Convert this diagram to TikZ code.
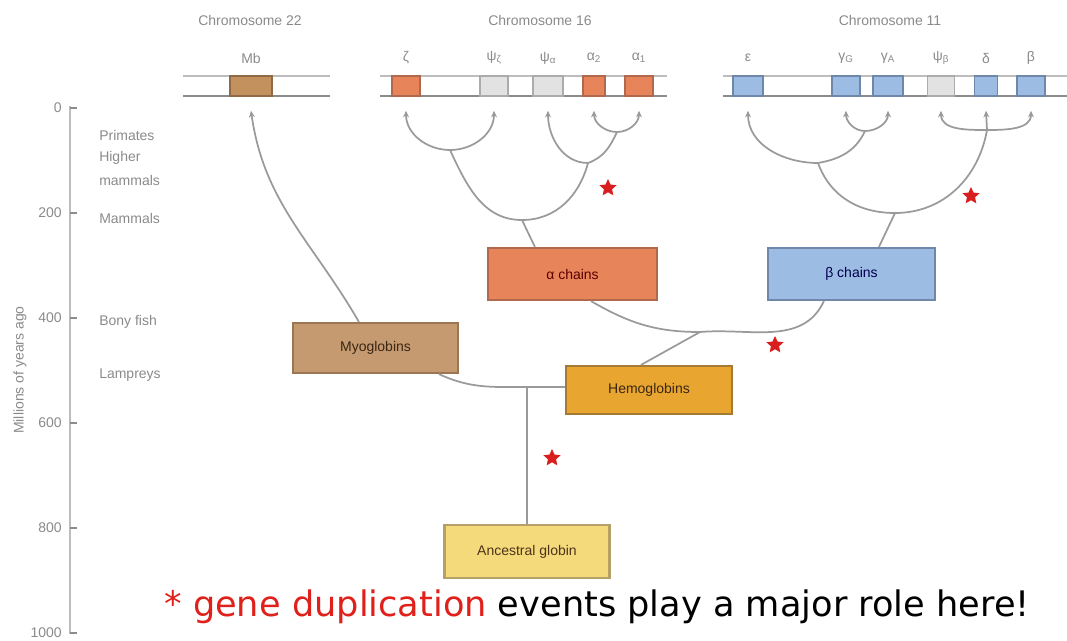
\documentclass[tikz,border=0pt]{standalone}
\usepackage{fontspec}
\setmainfont{Liberation Sans}
\newfontfamily\comicfont{DejaVu Sans}
\usetikzlibrary{shapes.geometric,arrows.meta,calc}
\definecolor{txtgray}{HTML}{8A8A8A}
\definecolor{linegray}{HTML}{9A9A9A}
\definecolor{chrtop}{HTML}{BDBDBD}
\definecolor{chrbot}{HTML}{8C8C8C}
\definecolor{mbfill}{HTML}{C3915E}
\definecolor{mbdraw}{HTML}{8F6A45}
\definecolor{afill}{HTML}{E8845A}
\definecolor{adraw}{HTML}{B0694C}
\definecolor{bfill}{HTML}{9DBCE4}
\definecolor{bdraw}{HTML}{6F87A8}
\definecolor{pfill}{HTML}{E2E2E2}
\definecolor{pdraw}{HTML}{ABABAB}
\definecolor{myofill}{HTML}{C69A70}
\definecolor{myodraw}{HTML}{9A7652}
\definecolor{hemofill}{HTML}{E8A631}
\definecolor{hemodraw}{HTML}{A57A34}
\definecolor{ancfill}{HTML}{F5DA7C}
\definecolor{ancdraw}{HTML}{B3A165}
\definecolor{starred}{HTML}{D81E1E}
\definecolor{dupred}{HTML}{E0201A}
\begin{document}
\begin{tikzpicture}[x=0.75pt,y=-0.75pt,
  lbl/.style={font=\fontsize{10.5}{12}\selectfont, text=txtgray, inner sep=0pt},
  gene/.style={draw=#1, line width=1.1pt, minimum height=15pt, inner sep=0pt},
  gw/.style={minimum width=#1*0.75pt},
  gbox/.style={draw=#1, line width=1.6pt, inner sep=0pt, font=\fontsize{10.5}{12}\selectfont},
  bw/.style 2 args={minimum width=#1*0.75pt, minimum height=#2*0.75pt},
  conn/.style={draw=linegray, line width=1.3pt},
  arr/.style={conn, -{Stealth[length=5pt,width=4.5pt]}},
  chrA/.style={draw=chrtop, line width=1.6pt},
  chrB/.style={draw=chrbot, line width=1.6pt},
  dupstar/.style={star, star points=5, star point ratio=2.1, fill=starred, minimum size=13.5pt, inner sep=0pt}
]
\useasboundingbox (0,0) rectangle (1067,640);

% ---------- axis ----------
\draw[draw=chrtop, line width=1.8pt] (70,106) -- (70,634);
\foreach \v/\y in {0/108,200/213,400/318,600/423,800/528,1000/633}{
  \draw[draw=chrbot, line width=1pt] (70,\y) -- (77,\y);
  \node[lbl, anchor=east] (t\v) at (62,\y) {\v};
}
\node[lbl, rotate=90] (ylab) at (20,370) {Millions of years ago};
\node[lbl, anchor=west] (e1) at (99,135) {Primates};
\node[lbl, anchor=west] (e2) at (99,158) {Higher};
\node[lbl, anchor=west] (e3) at (99,180) {mammals};
\node[lbl, anchor=west] (e4) at (99,218) {Mammals};
\node[lbl, anchor=west] (e5) at (99,322) {Bony fish};
\node[lbl, anchor=west] (e6) at (99,375) {Lampreys};

% ---------- chromosome titles ----------
\node[lbl] (c22) at (250,20) {Chromosome 22};
\node[lbl] (c16) at (540,20) {Chromosome 16};
\node[lbl] (c11) at (890,20) {Chromosome 11};

% ---------- chromosome bars ----------
\draw[chrA] (183,76) -- (330,76);
\draw[chrB] (183,96) -- (330,96);
\draw[chrA] (380,76) -- (667,76);
\draw[chrB] (380,96) -- (667,96);
\draw[chrA] (723,76) -- (1067,76);
\draw[chrB] (723,96) -- (1067,96);

% ---------- genes ----------
\node[gene=mbdraw, fill=mbfill, gw=42] (mb) at (251,86) {};
\node[gene=adraw, fill=afill, gw=28] (zeta) at (406,86) {};
\node[gene=pdraw, fill=pfill, gw=28] (pz) at (494,86) {};
\node[gene=pdraw, fill=pfill, gw=30] (pa) at (548,86) {};
\node[gene=adraw, fill=afill, gw=22] (a2) at (594,86) {};
\node[gene=adraw, fill=afill, gw=28] (a1) at (639,86) {};
\node[gene=bdraw, fill=bfill, gw=30] (eps) at (748,86) {};
\node[gene=bdraw, fill=bfill, gw=28] (gG) at (846,86) {};
\node[gene=bdraw, fill=bfill, gw=30] (gA) at (888,86) {};
\node[gene=pdraw, fill=pfill, gw=27] (pb) at (941,86) {};
\node[gene=bdraw, fill=bfill, gw=23] (del) at (986,86) {};
\node[gene=bdraw, fill=bfill, gw=28] (bet) at (1031,86) {};

% gene labels
\node[lbl] (lmb) at (251,58) {Mb};
\node[lbl] (lzeta) at (406,58) {ζ};
\node[lbl] (lpz) at (494,58) {ψ\textsubscript{ζ}};
\node[lbl] (lpa) at (548,58) {ψ\textsubscript{α}};
\node[lbl] (la2) at (594,58) {α\textsubscript{2}};
\node[lbl] (la1) at (639,58) {α\textsubscript{1}};
\node[lbl] (leps) at (748,58) {ε};
\node[lbl] (lgG) at (846,58) {γ\textsubscript{G}};
\node[lbl] (lgA) at (888,58) {γ\textsubscript{A}};
\node[lbl] (lpb) at (941,58) {ψ\textsubscript{β}};
\node[lbl] (ldel) at (986,58) {δ};
\node[lbl] (lbet) at (1031,58) {β};

% arrow tip coordinates
\foreach \g in {mb,zeta,pz,pa,a2,a1,eps,gG,gA,pb,del,bet}{
  \coordinate (\g T) at ($(\g.south)+(0,14)$);
}

% ---------- boxes ----------
\node[gbox=myodraw, fill=myofill, bw={165}{50}, text=black!70!brown] (myo) at (375.5,348) {Myoglobins};
\node[gbox=adraw, fill=afill, bw={169}{52}, text=black!65!red] (ach) at (572.5,274) {α chains};
\node[gbox=bdraw, fill=bfill, bw={167}{52}, text=black!70!blue] (bch) at (851.5,274) {β chains};
\node[gbox=hemodraw, fill=hemofill, bw={166}{48}, text=black!70!brown] (hemo) at (649,390) {Hemoglobins};
\node[gbox=ancdraw, fill=ancfill, bw={165}{53}, text=black!60!brown] (anc) at (527,551.5) {Ancestral globin};

% ---------- junctions ----------
\coordinate (j16a) at (450,150);
\coordinate (j16b) at (617,132);
\coordinate (j16c) at (588,163);
\coordinate (j16d) at (522,220);
\coordinate (j11a) at (865,131);
\coordinate (j11b) at (818,163);
\coordinate (j11c) at (987,130);
\coordinate (j11d) at (895,213);
\coordinate (jH) at (700,332);
\coordinate (jM) at (527,387);

% ---------- chromosome 16 tree ----------
\draw[arr] (j16a) to[out=180,in=-90] (zetaT);
\draw[arr] (j16a) to[out=0,in=-90] (pzT);
\draw[arr] (j16b) to[out=180,in=-90] (a2T);
\draw[arr] (j16b) to[out=0,in=-90] (a1T);
\draw[arr] (j16c) to[out=180,in=-90] (paT);
\draw[conn] (j16c) to[out=20,in=-115] (j16b);
\draw[conn] (j16d) to[out=180,in=-65] (j16a);
\draw[conn] (j16d) to[out=0,in=-105] (j16c);
\draw[conn] (j16d) -- ($(ach.north west)+(48,0)$);

% ---------- chromosome 11 tree ----------
\draw[arr] (j11a) to[out=180,in=-90] (gGT);
\draw[arr] (j11a) to[out=0,in=-90] (gAT);
\draw[arr] (j11b) to[out=180,in=-90] (epsT);
\draw[conn] (j11b) to[out=10,in=-115] (j11a);
\draw[arr] (j11c) to[out=180,in=-90] (pbT);
\draw[arr] (j11c) -- (delT);
\draw[arr] (j11c) to[out=0,in=-90] (betT);
\draw[conn] (j11d) to[out=180,in=-70] (j11b);
\draw[conn] (j11d) to[out=0,in=-100] (j11c);
\draw[conn] (j11d) -- ($(bch.north west)+(112,0)$);

% ---------- myoglobin ----------
\draw[arr] ($(myo.north west)+(67,0)$) to[out=120,in=-82] (mbT);

% ---------- lower tree ----------
\draw[conn] (jH) to[out=180,in=-30] ($(ach.south west)+(104,0)$);
\draw[conn] (jH) to[out=5,in=-115] ($(bch.south west)+(57,0)$);
\draw[conn] (jH) -- ($(hemo.north west)+(76,0)$);
\draw[conn] (jM) to[out=180,in=-25] ($(myo.south west)+(147,0)$);
\draw[conn] (jM) -- (hemo.west |- jM);
\draw[conn] (jM) -- (anc.north -| jM);

% ---------- stars ----------
\node[dupstar] (s1) at (608,188) {};
\node[dupstar] (s2) at (971,196) {};
\node[dupstar] (s3) at (775,345) {};
\node[dupstar] (s4) at (552,458) {};

% ---------- caption ----------
\node[inner sep=0pt] (cap) at (597,607) {\resizebox{649pt}{!}{\comicfont\textcolor{dupred}{* gene duplication} events play a major role here!}};
\end{tikzpicture}
\end{document}
